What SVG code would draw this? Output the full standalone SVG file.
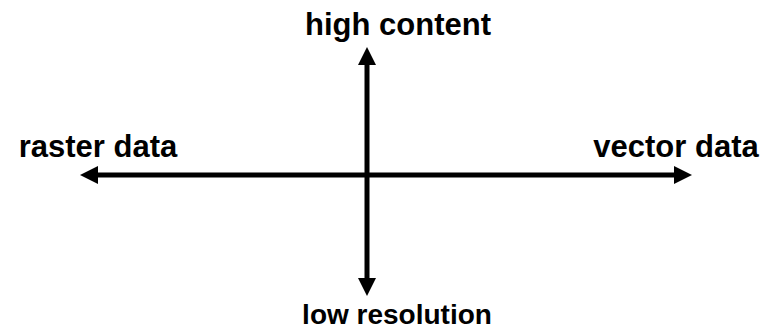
<svg xmlns="http://www.w3.org/2000/svg" width="763" height="329" viewBox="0 0 763 329">
<style>
  .lbl { font-family: "Liberation Sans", Arial, sans-serif; font-weight: bold; font-size: 31px; fill: #000; }
  .axis { stroke: #000; stroke-width: 5; fill: none; marker-start: url(#ah); marker-end: url(#ah); }
</style>
<defs>
  <marker id="ah" markerUnits="userSpaceOnUse" markerWidth="18" markerHeight="18" refX="0" refY="9" orient="auto-start-reverse" overflow="visible">
    <path d="M0,0 L18,9 L0,18 Z" fill="#000"/>
  </marker>
</defs>
<rect width="763" height="329" fill="#fff"/>
<g id="connectors">
  <line class="axis" x1="98" y1="175" x2="674" y2="175"/>
  <line class="axis" x1="367" y1="65" x2="367" y2="278"/>
</g>
<g id="high-content"><text class="lbl" x="398" y="35" text-anchor="middle">high content</text></g>
<g id="raster-data"><text class="lbl" x="98" y="157" text-anchor="middle">raster data</text></g>
<g id="vector-data"><text class="lbl" x="676" y="157" text-anchor="middle">vector data</text></g>
<g id="low-resolution"><text class="lbl" x="397" y="324" text-anchor="middle" style="font-size:28px">low resolution</text></g>
</svg>
